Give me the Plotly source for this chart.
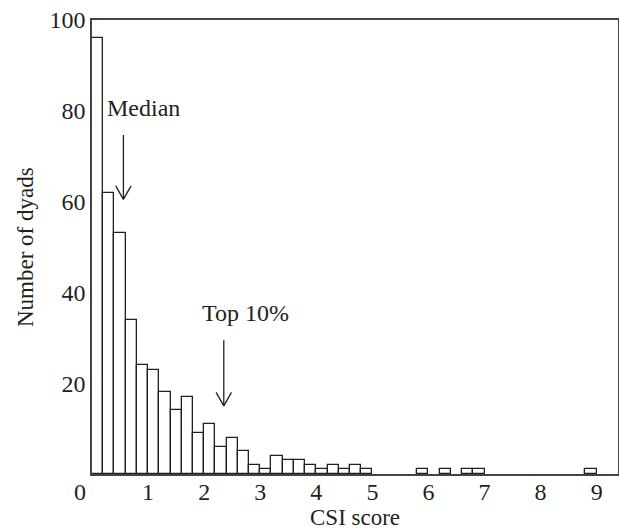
import plotly.graph_objects as go

# Histogram of CSI scores: bin left edges (width 0.2) and counts
bin_width = 0.2
bin_left = [0.0, 0.2, 0.4, 0.6, 0.8, 1.0, 1.2, 1.4, 1.6, 1.8, 2.0, 2.2, 2.4, 2.6,
            2.8, 3.0, 3.2, 3.4, 3.6, 3.8, 4.0, 4.2, 4.4, 4.6, 4.8,
            5.8, 6.2, 6.6, 6.8, 8.8]
counts = [96, 62, 53, 34, 24, 23, 18, 14, 17, 9, 11, 6, 8, 5,
          2, 1, 4, 3, 3, 2, 1, 2, 1, 2, 1,
          1, 1, 1, 1, 1]

x_ticks = [0, 1, 2, 3, 4, 5, 6, 7, 8, 9]
x_ticktext = ["0\u2002\u2002", "1", "2", "3", "4", "5", "6", "7", "8", "9"]
y_ticks = [20, 40, 60, 80, 100]

# Marker arrows: (x, tip y, tail y, label, label x, label y)
markers = [
    (0.56, 60.5, 75.0, "Median", 0.92, 80.6),
    (2.35, 15.0, 29.8, "Top 10%", 2.73, 35.5),
]

FONT = "Liberation Serif"
INK = "#231f20"
FS = 24

centers = [b + bin_width / 2 for b in bin_left]

fig = go.Figure()
fig.add_trace(go.Bar(
    x=centers, y=counts, width=bin_width,
    marker=dict(color="white", line=dict(color=INK, width=1.3)),
    showlegend=False, hoverinfo="skip",
))

for mx, tip, tail, label, lx, ly in markers:
    # shaft
    fig.add_annotation(x=mx, y=tip, ax=mx, ay=tail, xref="x", yref="y",
                       axref="x", ayref="y", text="", showarrow=True,
                       arrowhead=0, arrowwidth=1.3, arrowcolor=INK)
    # open V head (two arms, pixel offsets from the tip)
    for dx in (-8.5, 8.5):
        fig.add_annotation(x=mx, y=tip, ax=dx, ay=-15, xref="x", yref="y",
                           text="", showarrow=True, arrowhead=0,
                           arrowwidth=1.3, arrowcolor=INK)
    fig.add_annotation(x=lx, y=ly, xref="x", yref="y", text=label,
                       showarrow=False, font=dict(family=FONT, size=FS, color=INK))

# Axis titles
fig.add_annotation(x=0.5, y=0, xref="paper", yref="paper", yanchor="middle",
                   yshift=-43, text="CSI score", showarrow=False,
                   font=dict(family=FONT, size=23, color=INK))
fig.add_annotation(x=0, y=0.5, xref="paper", yref="paper", xanchor="center",
                   xshift=-67, text="Number of dyads", textangle=-90, showarrow=False,
                   font=dict(family=FONT, size=23, color=INK))

fig.update_layout(
    width=619, height=532,
    margin=dict(l=92, r=1, t=20, b=58),
    paper_bgcolor="white", plot_bgcolor="white",
    bargap=0,
    font=dict(family=FONT, size=FS, color=INK),
    xaxis=dict(range=[0, 9.38], tickvals=x_ticks, ticktext=x_ticktext,
               showgrid=False, zeroline=False, ticks="", automargin=False,
               ticklabelstandoff=-5,
               showline=True, linecolor="#444", linewidth=1.5, mirror=True),
    yaxis=dict(range=[0, 100], tickvals=y_ticks, showgrid=False, zeroline=False,
               ticks="", automargin=False, showline=True, linecolor="#444",
               linewidth=1.5, mirror=True),
)

fig.write_html(
    "out.html",
    config={"displayModeBar": False},
    post_script="document.body.style.margin='0';document.body.style.overflow='hidden';",
)
